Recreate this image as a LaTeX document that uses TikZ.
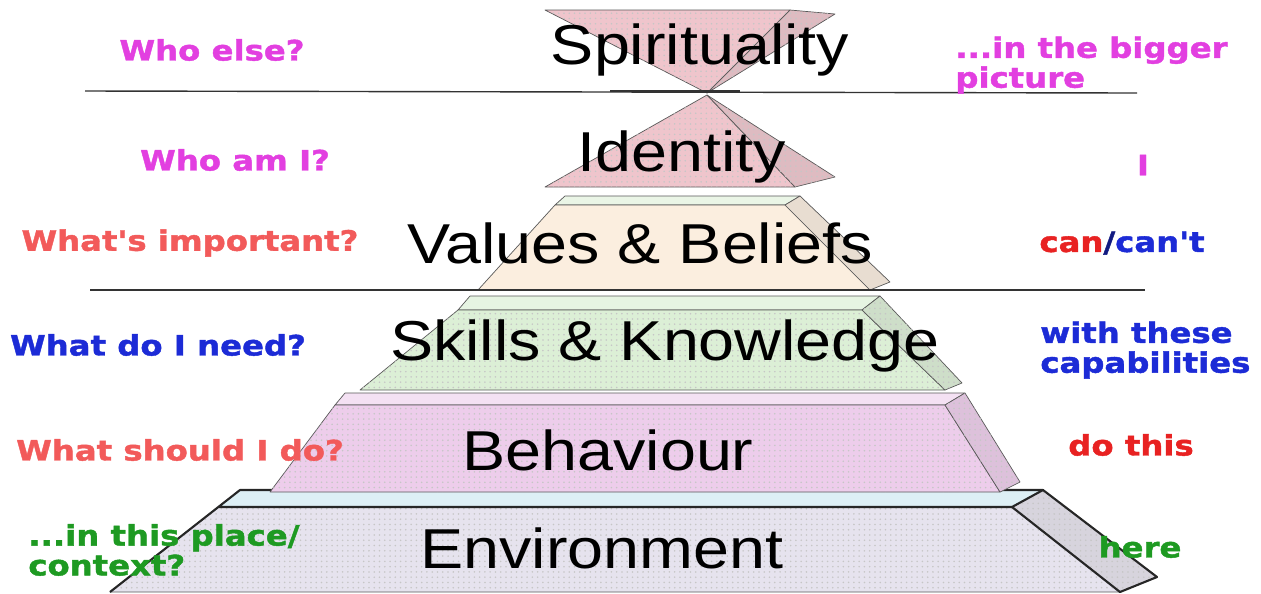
\documentclass[tikz,border=0pt]{standalone}
\usepackage{fontspec}
\newfontfamily\stepfont[FakeStretch=1.15]{Liberation Sans}
\newfontfamily\tagfont[FakeStretch=1.15,FakeBold=1.5]{DejaVu Sans}
\usetikzlibrary{patterns}

\definecolor{tagpink}{HTML}{E23FE0}
\definecolor{tagcoral}{HTML}{F25A5A}
\definecolor{tagred}{HTML}{E82222}
\definecolor{tagblue}{HTML}{1C2BD6}
\definecolor{taggreen}{HTML}{1E9A22}
\definecolor{spiritfill}{HTML}{EFC5CC}
\definecolor{valuesfill}{HTML}{FBEEDF}
\definecolor{skillsfill}{HTML}{DCEFD6}
\definecolor{behavfill}{HTML}{EDCDEB}
\definecolor{envfill}{HTML}{E6E3EE}
\definecolor{envtop}{HTML}{DDEFF5}

\begin{document}
\begin{tikzpicture}[x=0.02cm,y=-0.02cm]
\tikzstyle{face}=[draw=gray!70!black, line width=0.4pt, line join=round];
\tikzstyle{dotted fill}=[postaction={pattern=dots, pattern color=gray!45}];
\tikzstyle{level}=[font=\stepfont\fontsize{32}{32}\selectfont, text=black, inner sep=0pt];
\tikzstyle{tag}=[font=\tagfont\bfseries\fontsize{16}{17}\selectfont, inner sep=0pt];
\tikzstyle{rule}=[line width=0.8pt, black!80];

\useasboundingbox (0,0) rectangle (1261,593);

% environment, the base block
\draw[face, fill=envtop] (240,490) -- (1043,490) -- (1012,507) -- (218,507) -- cycle;
\draw[face, fill=envfill, dotted fill] (218,507) -- (1012,507) -- (1120,592) -- (110,592) -- cycle;
\draw[face, fill=envfill!85!gray, dotted fill] (1012,507) -- (1043,490) -- (1157,577) -- (1120,592) -- cycle;
\draw[line width=1.2pt, black!85, line join=round] (110,592) -- (240,490) -- (1043,490) -- (1157,577) -- (1120,592) -- (1012,507) -- (218,507);
\draw[line width=1.2pt, black!85] (1012,507) -- (1043,490);

% behaviour
\draw[face, fill=behavfill!60] (345,393) -- (965,393) -- (945,405) -- (335,405) -- cycle;
\draw[face, fill=behavfill, dotted fill] (335,405) -- (945,405) -- (1000,492) -- (270,492) -- cycle;
\draw[face, fill=behavfill!85!gray, dotted fill] (945,405) -- (965,393) -- (1020,482) -- (1000,492) -- cycle;

% skills and knowledge
\draw[face, fill=skillsfill!70] (470,296) -- (880,296) -- (862,310) -- (458,310) -- cycle;
\draw[face, fill=skillsfill, dotted fill] (458,310) -- (862,310) -- (945,390) -- (360,390) -- cycle;
\draw[face, fill=skillsfill!85!gray, dotted fill] (862,310) -- (880,296) -- (962,383) -- (945,390) -- cycle;

% values and beliefs
\draw[face, fill=skillsfill!60] (565,196) -- (800,196) -- (785,205) -- (555,205) -- cycle;
\draw[face, fill=valuesfill] (555,205) -- (785,205) -- (870,290) -- (478,290) -- cycle;
\draw[face, fill=valuesfill!85!gray] (785,205) -- (800,196) -- (890,282) -- (870,290) -- cycle;

% identity
\draw[face, fill=spiritfill, dotted fill] (707,95) -- (545,187) -- (795,187) -- cycle;
\draw[face, fill=spiritfill!85!gray, dotted fill] (707,95) -- (835,177) -- (795,187) -- cycle;

% spirituality, upside down
\draw[face, fill=spiritfill, dotted fill] (545,10) -- (790,10) -- (707,93) -- cycle;
\draw[face, fill=spiritfill!85!gray, dotted fill] (790,10) -- (835,14) -- (707,93) -- cycle;

% dividing rules
\draw[rule] (85,91) -- (1137,93);
\draw[rule, line width=1.6pt] (610,91) -- (740,91);
\draw[rule] (90,290) -- (1145,290);

% level names
\node[level] (spirit) at (700,50) {Spirituality};
\node[level] (ident) at (682,157) {Identity};
\node[level] (values) at (640,243) {Values \& Beliefs};
\node[level] (skills) at (665,346) {Skills \& Knowledge};
\node[level] (behav) at (608,450) {Behaviour};
\node[level] (env) at (602,548) {Environment};

% questions on the left, answers on the right
\node[tag, text=tagpink] (whoelse) at (212,50) {Who else?};
\node[tag, text=tagpink, anchor=west, align=left] (bigger) at (955,65) {...in the bigger\\picture};
\node[tag, text=tagpink] (whoami) at (235,160) {Who am I?};
\node[tag, text=tagpink] (self) at (1143,165) {I};
\node[tag, text=tagcoral] (important) at (190,243) {What's important?};
\node[tag] (canorcant) at (1122,243) {\textcolor{tagred}{can}\textcolor{tagblue!60!black}{/}\textcolor{tagblue}{can't}};
\node[tag, text=tagblue] (need) at (158,345) {What do I need?};
\node[tag, text=tagblue, anchor=west, align=left] (capab) at (1040,350) {with these\\capabilities};
\node[tag, text=tagcoral] (should) at (180,450) {What should I do?};
\node[tag, text=tagred] (dothis) at (1131,445) {do this};
\node[tag, text=taggreen, anchor=west, align=left] (place) at (28,550) {...in this place/\\context?};
\node[tag, text=taggreen] (here) at (1140,547) {here};

\end{tikzpicture}
\end{document}
